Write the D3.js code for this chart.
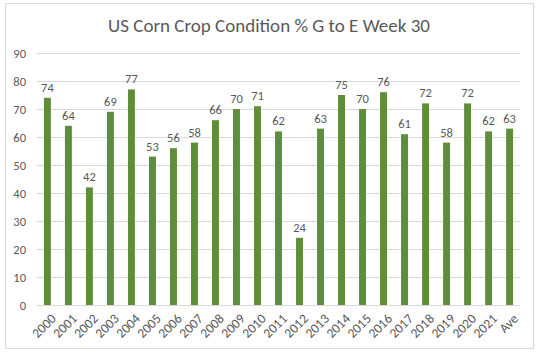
<!DOCTYPE html>
<html>
<head>
<meta charset="utf-8">
<script src="https://d3js.org/d3.v7.min.js"></script>
<style>
  body { margin: 0; background: #fff; }
  text { font-family: Carlito, Calibri, Lato, "Liberation Sans", sans-serif; fill: #595959; }
</style>
</head>
<body>
<div id="chart"></div>
<script>
// years plus the average column
var years = ["2000", "2001", "2002", "2003", "2004", "2005", "2006", "2007", "2008", "2009", "2010",
  "2011", "2012", "2013", "2014", "2015", "2016", "2017", "2018", "2019", "2020", "2021", "Ave"];
var condition = [74, 64, 42, 69, 77, 53, 56, 58, 66, 70, 71, 62, 24, 63, 75, 70, 76, 61, 72, 58, 72, 62, 63];
var yTicks = [0, 10, 20, 30, 40, 50, 60, 70, 80, 90];

var width = 537, height = 352;
var margin = { top: 53, right: 17, bottom: 47, left: 37 };
var w = width - margin.left - margin.right,
  h = height - margin.top - margin.bottom;

var svg = d3.select("#chart").append("svg")
  .attr("width", width)
  .attr("height", height);

// chart border
svg.append("rect")
  .attr("x", 5.5).attr("y", 3.5)
  .attr("width", 528).attr("height", 345)
  .attr("fill", "#fff")
  .attr("stroke", "#d9d9d9");

svg.append("text")
  .attr("x", 269)
  .attr("y", 32)
  .attr("text-anchor", "middle")
  .style("font-size", "19px")
  .text("US Corn Crop Condition % G to E Week 30");

var g = svg.append("g")
  .attr("transform", "translate(" + margin.left + "," + margin.top + ")");

var x = d3.scaleBand()
  .domain(years)
  .range([0, w])
  .paddingInner(0.67)
  .paddingOuter(0.33);

var y = d3.scaleLinear()
  .domain([0, 90])
  .range([h, 0]);

// grid lines
g.selectAll(".grid")
  .data(yTicks)
  .enter().append("line")
  .attr("x1", 0).attr("x2", w)
  .attr("y1", function(d) { return Math.round(y(d)) + 0.5; })
  .attr("y2", function(d) { return Math.round(y(d)) + 0.5; })
  .attr("stroke", "#d9d9d9");

var yAxis = d3.axisLeft(y).tickValues(yTicks).tickSize(0).tickPadding(11);
g.append("g")
  .call(yAxis)
  .call(function(s) { s.select(".domain").remove(); })
  .selectAll("text")
  .style("font-size", "12.5px");

var xAxis = d3.axisBottom(x).tickSize(0);
g.append("g")
  .attr("transform", "translate(0," + h + ")")
  .call(xAxis)
  .call(function(s) { s.select(".domain").remove(); })
  .selectAll("text")
  .style("font-size", "13.5px")
  .attr("text-anchor", "end")
  .attr("dy", "0.35em")
  .attr("transform", "translate(4,9) rotate(-45)");

g.selectAll(".bar")
  .data(condition)
  .enter().append("rect")
  .attr("class", "bar")
  .attr("x", function(d, i) { return x(years[i]); })
  .attr("width", x.bandwidth())
  .attr("y", function(d) { return y(d); })
  .attr("height", function(d) { return h - y(d); })
  .attr("fill", "#5f8e3a");

g.selectAll(".lbl")
  .data(condition)
  .enter().append("text")
  .attr("x", function(d, i) { return x(years[i]) + x.bandwidth() / 2; })
  .attr("y", function(d) { return y(d) - 6; })
  .attr("text-anchor", "middle")
  .style("font-size", "12.5px")
  .text(function(d) { return d; });
</script>
</body>
</html>
